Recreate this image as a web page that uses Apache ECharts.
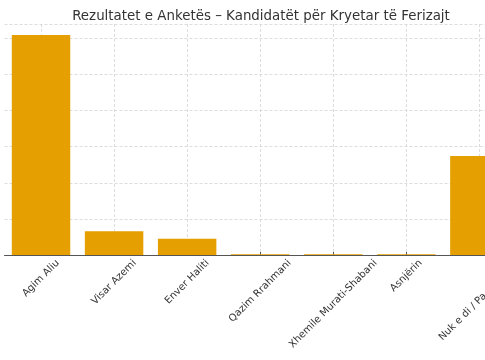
<!DOCTYPE html>
<html>
<head>
<meta charset="utf-8">
<script src="https://cdn.jsdelivr.net/npm/echarts@6/dist/echarts.min.js"></script>
<style>html,body{margin:0;padding:0;background:#fff}#c{width:485px;height:360px}</style>
</head>
<body>
<div id="c"></div>
<script>
const titleText = 'Rezultatet e Anketës – Kandidatët për Kryetar të Ferizajt';
const categories = ['Agim Aliu', 'Visar Azemi', 'Enver Haliti', 'Qazim Rrahmani', 'Xhemile Murati-Shabani', 'Asnjërin', 'Nuk e di / Pa përgjigje'];
const values = [60.9, 6.6, 4.5, 0.2, 0.2, 0.2, 27.4];
const yTicks = [0, 10, 20, 30, 40, 50, 60];

const FONT = 'DejaVu Sans';
const LABEL_SIZE = 10;
const ctx = document.createElement('canvas').getContext('2d');
ctx.font = LABEL_SIZE + 'px "' + FONT + '"';

// matplotlib-style centred rotated labels: shift each label so that its
// rotated box hangs below the tick, centred on it.
const catData = categories.map(function (c) {
  const w = ctx.measureText(c).width;
  const p = (w + LABEL_SIZE) / 2;
  return {
    value: c,
    textStyle: { align: 'center', verticalAlign: 'top', lineHeight: p, padding: [0, p, 0, 0] }
  };
});

const chart = echarts.init(document.getElementById('c'), null, { renderer: 'canvas' });
chart.setOption({
  animation: false,
  backgroundColor: '#ffffff',
  title: {
    text: titleText,
    left: 256,
    top: 5,
    textAlign: 'center',
    textStyle: { fontFamily: FONT, fontSize: 13.4, fontWeight: 'normal', color: '#333333' }
  },
  grid: { left: 4.5, top: 24, width: 511.4, height: 231, outerBoundsMode: 'none', containLabel: false },
  xAxis: {
    type: 'category',
    data: catData,
    axisLine: { lineStyle: { color: '#555555', width: 1 } },
    axisTick: { show: true, alignWithLabel: true, inside: true, length: 3, lineStyle: { color: '#555555' } },
    splitLine: { show: true, alignWithLabel: true, lineStyle: { color: '#d4d4d4', type: [3, 2], width: 0.8 } },
    axisLabel: {
      rotate: 45, margin: 3,
      fontFamily: FONT, fontSize: LABEL_SIZE, color: '#333333', interval: 0
    }
  },
  yAxis: {
    type: 'value',
    min: yTicks[0],
    max: 63.95,
    interval: 10,
    axisLine: { show: false },
    axisTick: { show: false },
    axisLabel: { show: false },
    splitLine: { show: true, lineStyle: { color: '#d4d4d4', type: [3, 2], width: 0.8 } }
  },
  series: [{
    type: 'bar',
    data: values,
    barWidth: '80%',
    itemStyle: { color: '#E69F00' }
  }]
});
</script>
</body>
</html>
